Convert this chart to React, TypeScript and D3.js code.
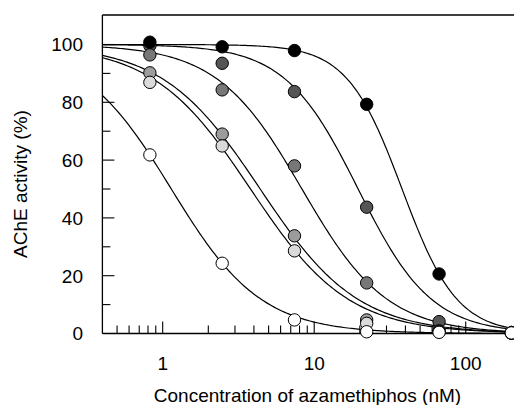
import React from 'react';
import * as d3 from 'd3';

// azamethiphos concentrations (nM), 3-fold dilutions
const concentrations = [0.823, 2.47, 7.41, 22.2, 66.7, 200];

// AChE activity (%) per series
const blackActivity = [100.8, 99.2, 97.9, 79.3, 20.6, 0.2];
const darkActivity = [99.6, 93.5, 83.7, 43.7, 4.1, 0.2];
const midActivity = [96.4, 84.3, 58.0, 17.5, 0.9, 0.2];
const greyActivity = [90.2, 69.0, 33.8, 4.7, 0.7, 0.2];
const lightActivity = [86.9, 64.9, 28.6, 3.5, 0.6, 0.2];
const whiteActivity = [61.8, 24.3, 4.7, 0.6, 0.4, 0.2];

const seriesValues = [blackActivity, darkActivity, midActivity, greyActivity, lightActivity, whiteActivity];
const seriesFills = ['#000000', '#555555', '#777777', '#9c9c9c', '#dadada', '#ffffff'];

// fitted dose-response curves (IC50 in nM, Hill slope)
const ic50 = [38, 19.5, 8.3, 4.4, 3.8, 1.14];
const hillSlope = [2.4, 1.8, 1.55, 1.35, 1.35, 1.47];

const yTicks = [0, 20, 40, 60, 80, 100];
const yMinorTicks = [10, 30, 50, 70, 90];
const xTickLabels = [1, 10, 100];

const font = 'Arial, "Liberation Sans", Helvetica, sans-serif';

export default function App() {
  const width = 514;
  const height = 405;
  const left = 102.4;
  const top = 15;
  const bottom = 333.5;

  const x = d3.scaleLog().domain([0.4, 220]).range([left, 517.6]);
  const y = d3.scaleLinear().domain([0, 110]).range([bottom, 15.6]);

  const curve = (i: number) => {
    const pts: [number, number][] = [];
    const n = 200;
    for (let k = 0; k <= n; k++) {
      const c = 0.4 * Math.pow(200 / 0.4, k / n);
      pts.push([c, 100 / (1 + Math.pow(c / ic50[i], hillSlope[i]))]);
    }
    return d3.line<[number, number]>().x(d => x(d[0])).y(d => y(d[1]))(pts) || '';
  };

  const xTicks = x.ticks().filter(t => t > 0.41 && t <= 200);
  const isMajor = (t: number) => Math.abs(Math.log10(t) - Math.round(Math.log10(t))) < 1e-6;

  const drawOrder = [1, 0, 2, 3, 4, 5];

  return (
    <div style={{ position: 'fixed', left: 0, top: 0 }}>
      <svg width={width} height={height} style={{ display: 'block', background: 'white' }}>
        <defs>
          <clipPath id="plot">
            <rect x={left} y={top} width={width - left} height={bottom - top + 8} />
          </clipPath>
        </defs>

        {/* frame */}
        <g stroke="#000" strokeWidth={1.3} fill="none">
          <line x1={left} x2={width} y1={top} y2={top} />
          <line x1={left} x2={left} y1={top} y2={bottom} />
          <line x1={left} x2={width} y1={bottom} y2={bottom} />
        </g>

        {/* y ticks */}
        <g stroke="#000" strokeWidth={1.1}>
          {yTicks.filter(t => t > 0).map(t => (
            <line key={'ym' + t} x1={left} x2={left + 12} y1={y(t)} y2={y(t)} />
          ))}
          {yMinorTicks.map(t => (
            <line key={'yn' + t} x1={left} x2={left + 8} y1={y(t)} y2={y(t)} />
          ))}
        </g>
        <g fontFamily={font} fontSize={19} textAnchor="end">
          {yTicks.map(t => (
            <text key={'yl' + t} x={83} y={y(t)} dy="0.36em">{t}</text>
          ))}
        </g>

        {/* x ticks */}
        <g stroke="#000" strokeWidth={1.1}>
          {xTicks.map(t => (
            <line key={'xt' + t} x1={x(t)} x2={x(t)} y1={bottom} y2={bottom - (isMajor(t) ? 12 : 8)} />
          ))}
        </g>
        <g fontFamily={font} fontSize={19} textAnchor="middle">
          {xTickLabels.map(t => (
            <text key={'xl' + t} x={x(t)} y={370}>{t}</text>
          ))}
        </g>

        {/* axis titles */}
        <text x={307.5} y={401.5} fontFamily={font} fontSize={19} textAnchor="middle">
          Concentration of azamethiphos (nM)
        </text>
        <text transform={`translate(27,184) rotate(-90)`} fontFamily={font} fontSize={19} textAnchor="middle">
          AChE activity (%)
        </text>

        {/* fitted curves */}
        <g clipPath="url(#plot)" fill="none" stroke="#000" strokeWidth={1.2}>
          {seriesValues.map((_, i) => (
            <path key={'c' + i} d={curve(i)} />
          ))}
        </g>

        {/* data points */}
        <g stroke="#000" strokeWidth={1}>
          {drawOrder.map(i => (
            <g key={'s' + i} fill={seriesFills[i]}>
              {seriesValues[i].map((v, j) => (
                <circle key={j} cx={x(concentrations[j])} cy={y(v)} r={6.2} />
              ))}
            </g>
          ))}
        </g>
      </svg>
    </div>
  );
}
